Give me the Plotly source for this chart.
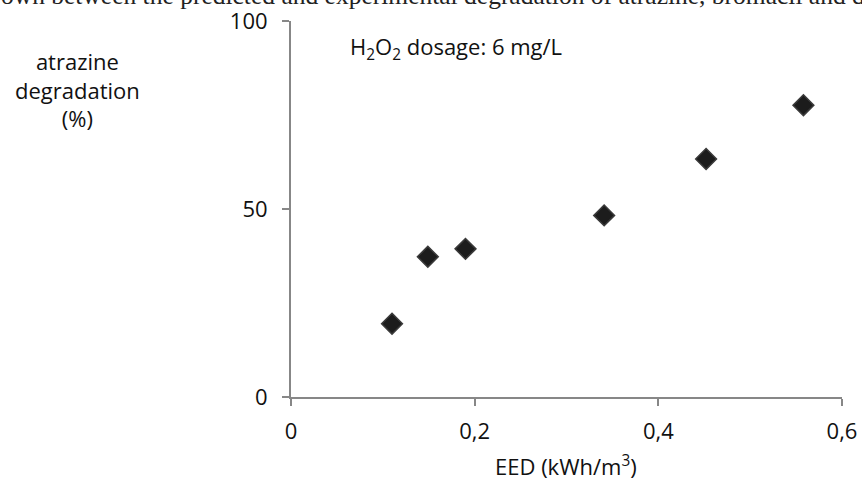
import plotly.graph_objects as go

eed = [0.11, 0.149, 0.19, 0.341, 0.452, 0.558]
degradation = [19.5, 37.3, 39.4, 48.3, 63.3, 77.6]
x_ticks = [0, 0.2, 0.4, 0.6]
x_tick_labels = ["0", "0,2", "0,4", "0,6"]
y_ticks = [0, 50, 100]
y_tick_labels = ["0", "50", "100"]

axis_color = "#878787"
font = "Open Sans, Liberation Sans, sans-serif"

fig = go.Figure()
fig.add_trace(go.Scatter(
    x=eed, y=degradation, mode="markers",
    marker=dict(symbol="diamond", size=16, color="#1c1c1c",
                line=dict(width=1.5, color="#3a3a3a")),
    showlegend=False, cliponaxis=False,
))

fig.update_layout(
    width=862, height=484,
    margin=dict(l=291, r=20, t=21, b=87),
    paper_bgcolor="white", plot_bgcolor="white",
    font=dict(family=font, size=22, color="#111111"),
    xaxis=dict(range=[0, 0.6], tickvals=x_ticks, ticktext=x_tick_labels,
               showgrid=False, zeroline=False, showline=True, automargin=False,
               linecolor=axis_color, linewidth=2, ticks="outside",
               ticklen=7, tickwidth=2, tickcolor=axis_color,
               ticklabelstandoff=7, tickfont=dict(size=22)),
    yaxis=dict(range=[0, 100], tickvals=y_ticks, ticktext=y_tick_labels,
               showgrid=False, zeroline=False, showline=True, automargin=False,
               linecolor=axis_color, linewidth=2, ticks="outside",
               ticklen=7, tickwidth=2, tickcolor=axis_color,
               ticklabelstandoff=10, tickfont=dict(size=22)),
)

fig.add_annotation(
    text="H<sub>2</sub>O<sub>2</sub> dosage: 6 mg/L",
    xref="paper", yref="paper", x=0.103, y=0.928,
    xanchor="left", yanchor="middle", showarrow=False,
    font=dict(size=22, family=font),
)
fig.add_annotation(
    text="atrazine<br>degradation<br>(%)",
    xref="paper", yref="paper", x=-0.387, y=0.819,
    xanchor="center", yanchor="middle", showarrow=False,
    font=dict(size=22, family=font), align="center",
)
fig.add_annotation(
    text="EED (kWh/m<sup>3</sup>)",
    xref="paper", yref="paper", x=0.499, y=-0.1835,
    xanchor="center", yanchor="middle", showarrow=False,
    font=dict(size=22, family=font),
)
fig.add_annotation(
    text="own between the predicted and experimental degradation of atrazine, bromacil and d",
    xref="paper", yref="paper", x=-0.53, y=1.023,
    xanchor="left", yanchor="bottom", showarrow=False,
    font=dict(size=25.5, family="Liberation Serif, serif", color="#222222"),
)

fig.write_html("out.html")
